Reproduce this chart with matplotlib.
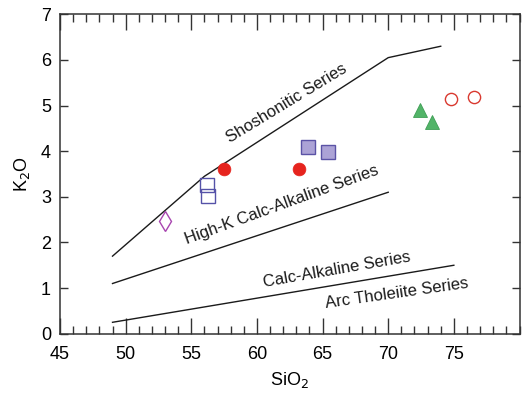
import matplotlib
matplotlib.use("Agg")
import matplotlib.pyplot as plt
from matplotlib.ticker import MultipleLocator, FixedLocator

plt.rcParams['font.family'] = ['Liberation Sans', 'DejaVu Sans']

# Series boundary lines (SiO2, K2O)
sho_x = [49, 56, 70, 74]
sho_y = [1.70, 3.45, 6.05, 6.30]
hk_x = [49, 70]
hk_y = [1.10, 3.10]
ca_x = [49, 75]
ca_y = [0.25, 1.50]

# Samples
diamond_x = [53.0]
diamond_y = [2.48]
open_sq_x = [56.2, 56.3]
open_sq_y = [3.26, 3.02]
red_dot_x = [57.5, 63.2]
red_dot_y = [3.60, 3.60]
fill_sq_x = [63.9, 65.4]
fill_sq_y = [4.10, 3.99]
tri_x = [72.4, 73.3]
tri_y = [4.90, 4.65]
open_circ_x = [74.75, 76.5]
open_circ_y = [5.14, 5.18]

x_ticks = [45, 50, 55, 60, 65, 70, 75]
y_ticks = [0, 1, 2, 3, 4, 5, 6, 7]

# Field labels: text, x, y, rotation
labels = [
    ("Shoshonitic Series", 62.26, 5.05, 31.3),
    ("High-K Calc-Alkaline Series", 61.88, 2.82, 20.0),
    ("Calc-Alkaline Series", 66.07, 1.41, 9.9),
    ("Arc Tholeiite Series", 70.69, 0.885, 8.1),
]

fig = plt.figure(figsize=(5.23, 3.94), dpi=100)
ax = fig.add_axes([60 / 523, 1 - 333.7 / 394, 459.5 / 523, 319.4 / 394])
ax.set_xlim(45, 80)
ax.set_ylim(0, 7)

line_kw = dict(color='#1a1a1a', lw=1.0)
ax.plot(sho_x, sho_y, **line_kw)
ax.plot(hk_x, hk_y, **line_kw)
ax.plot(ca_x, ca_y, **line_kw)

ax.plot(diamond_x, diamond_y, 'd', ms=9.7, mfc='none', mec='#A845B0', mew=1.0)
ax.plot(open_sq_x, open_sq_y, 's', ms=9.5, mfc='none', mec='#5552A8', mew=1.0)
ax.plot(red_dot_x, red_dot_y, 'o', ms=9.2, mfc='#E6241E', mec='#E6241E', mew=0.5)
ax.plot(fill_sq_x, fill_sq_y, 's', ms=10, mfc='#ACA3D6', mec='#5B53A6', mew=1.0)
ax.plot(tri_x, tri_y, '^', ms=10.5, mfc='#52B468', mec='#3F9E55', mew=0.6)
ax.plot(open_circ_x, open_circ_y, 'o', ms=8.8, mfc='none', mec='#D9392F', mew=1.0)

for txt, x, y, rot in labels:
    ax.text(x, y, txt, rotation=rot, rotation_mode='anchor', ha='center', va='center',
            fontsize=12, color='#1a1a1a')

for sp in ax.spines.values():
    sp.set_color('#333333')
    sp.set_linewidth(1.1)

ax.xaxis.set_major_locator(FixedLocator(x_ticks))
ax.xaxis.set_minor_locator(MultipleLocator(1))
ax.yaxis.set_major_locator(FixedLocator(y_ticks))
ax.tick_params(axis='x', which='major', direction='in', length=11.5, width=1.0,
               top=True, bottom=True, color='#333333', labelsize=13, pad=9)
ax.tick_params(axis='x', which='minor', direction='in', length=5.8, width=1.0,
               top=True, bottom=True, color='#333333')
ax.tick_params(axis='y', which='major', direction='in', length=5.8, width=1.0,
               left=True, right=True, color='#333333', labelsize=13, pad=6.5)

ax.set_xlabel('SiO$_2$', fontsize=13)
ax.set_ylabel('K$_2$O', fontsize=13)
ax.xaxis.set_label_coords(0.5, -0.145)
ax.xaxis.label.set_va('center')
ax.yaxis.set_label_coords(-0.083, 0.5)
ax.yaxis.label.set_va('center')

fig.savefig('out.png', dpi=100)
